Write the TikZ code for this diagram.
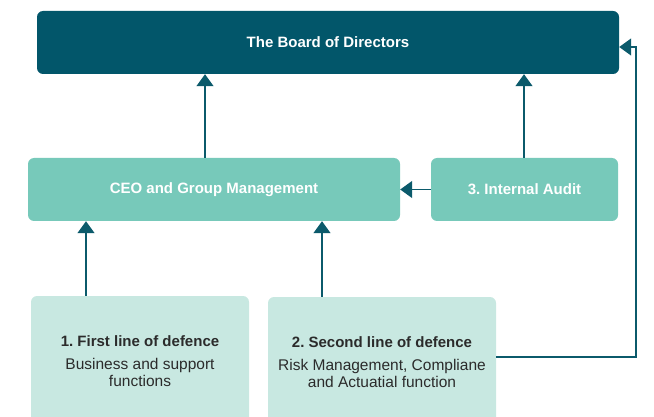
\documentclass[tikz,border=0pt]{standalone}
\usepackage{fontspec}
\setmainfont{Liberation Sans}
\usepackage{tikz}
\usetikzlibrary{arrows.meta,positioning}
\definecolor{boardteal}{HTML}{02566A}
\definecolor{midteal}{HTML}{77C9BA}
\definecolor{paleteal}{HTML}{C8E8E1}
\definecolor{linkteal}{HTML}{0B5A6B}
\definecolor{darktext}{HTML}{2B2B2B}
\frenchspacing

\tikzset{
  box/.style={rounded corners=6pt, inner sep=0pt, align=center},
  topbox/.style={box, fill=boardteal, text=white, font=\fontsize{15}{17}\selectfont\bfseries},
  midbox/.style={box, fill=midteal, text=white, font=\fontsize{15}{17}\selectfont\bfseries},
  lowbox/.style={box, fill=paleteal, text=darktext, font=\fontsize{15.5}{17}\selectfont},
  link/.style={draw=linkteal, line width=1.3pt, -{Triangle[width=17pt,length=12pt]}, color=linkteal},
}

\begin{document}
\begin{tikzpicture}[x=1pt,y=-1pt]
                \useasboundingbox (0,0) rectangle (654,417);
                \node[topbox, minimum width=582pt, minimum height=63pt] (board) at (328,42.5) {The Board of Directors};
                \node[midbox, minimum width=372pt, minimum height=63pt] (ceo) at (214,189.5) {CEO and Group Management};
                \node[midbox, minimum width=187pt, minimum height=63pt] (audit) at (524.5,189.5) {3. Internal Audit};
                \node[lowbox, minimum width=218pt, minimum height=130pt] (first) at (140,361)
                    {{\fontsize{15}{17}\selectfont\bfseries 1. First line of defence}\\[6pt]Business and support\\functions};
                \node[lowbox, minimum width=228pt, minimum height=130pt] (second) at (382,362)
                    {{\fontsize{15}{17}\selectfont\bfseries 2. Second line of defence}\\[6pt]Risk Management, Compliane\\and Actuatial function};
                \draw[link] (ceo.north -| 205,0) -- (board.south -| 205,0);
                \draw[link] (audit.north -| 524,0) -- (board.south -| 524,0);
                \draw[link] (audit.west) -- (ceo.east);
                \draw[link] (first.north -| 86,0) -- (ceo.south -| 86,0);
                \draw[link] (second.north -| 322,0) -- (ceo.south -| 322,0);
                \draw[link] (second.east |- 0,357) -- (636,357) -- (636,47) -- (board.east |- 0,47);
            \end{tikzpicture}
\end{document}
